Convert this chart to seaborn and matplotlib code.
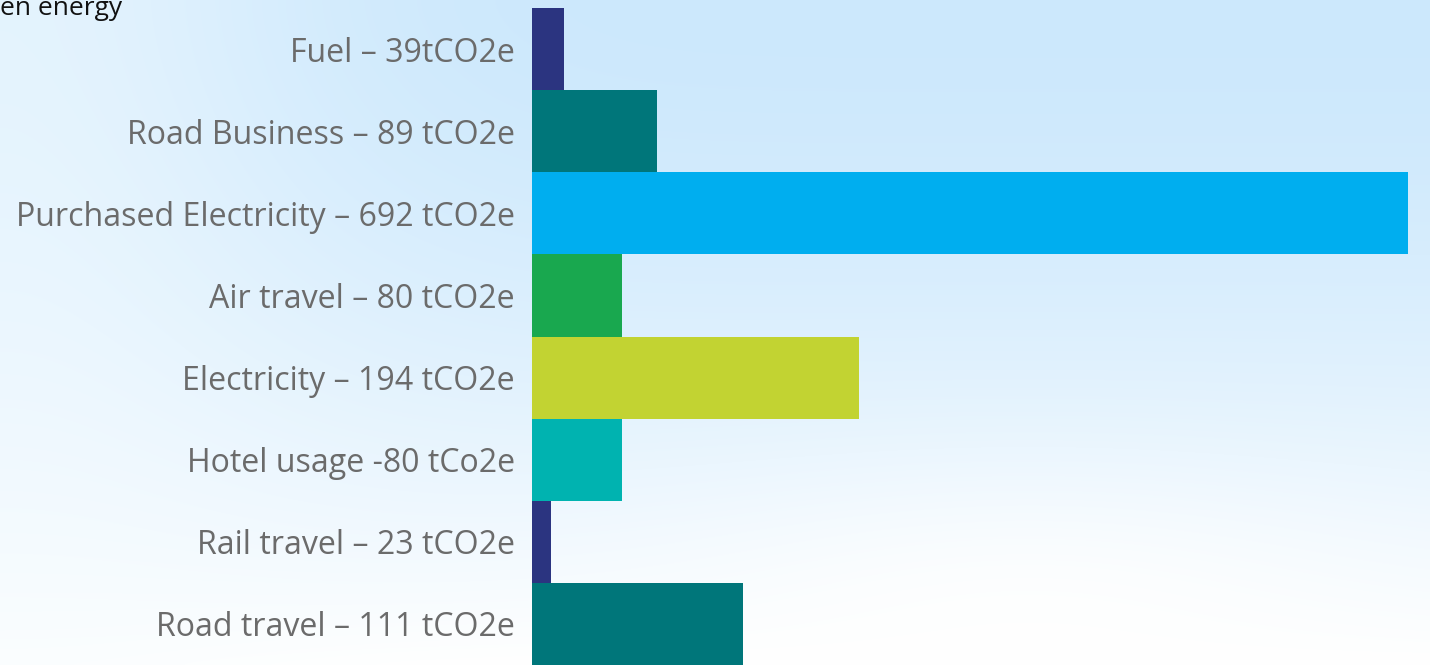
import numpy as np
import pandas as pd
import matplotlib
matplotlib.use("Agg")
import matplotlib.pyplot as plt
import seaborn as sns

# ---- data ----
labels = [
    "Fuel – 39tCO2e",
    "Road Business – 89 tCO2e",
    "Purchased Electricity – 692 tCO2e",
    "Air travel – 80 tCO2e",
    "Electricity – 194 tCO2e",
    "Hotel usage -80 tCo2e",
    "Rail travel – 23 tCO2e",
    "Road travel – 111 tCO2e",
]
# bar lengths as drawn in the picture (scaled so Purchased Electricity = 692)
values = [25.3, 98.7, 692, 71.1, 258.3, 71.1, 15.0, 166.7]
colors = ["#2b3480", "#00767a", "#00aeef", "#19a84f",
          "#c2d332", "#00b3b0", "#2b3480", "#00767a"]
title_fragment = "en energy"

sns.set_theme(style="white")
plt.rcParams["font.family"] = ["Open Sans", "DejaVu Sans"]

W, H = 1430, 665
fig = plt.figure(figsize=(W / 100, H / 100), dpi=100)

# ---- sky-like background ----
bg = fig.add_axes([0, 0, 1, 1], zorder=0)
ny, nx = 200, 430
yy, xx = np.mgrid[0:1:ny * 1j, 0:1:nx * 1j]
top = np.array([0.80, 0.91, 0.99])
bot = np.array([1.0, 1.0, 1.0])
t = np.clip(yy ** 1.6, 0, 1)
img = top[None, None, :] * (1 - t[..., None]) + bot[None, None, :] * t[..., None]
# whitish glow on the left
glow = np.exp(-((xx - 0.0) / 0.22) ** 2) * 0.55
img = img * (1 - glow[..., None]) + glow[..., None] * np.array([0.97, 0.99, 1.0])
# whitish cloud in lower middle/right
cloud = np.exp(-(((xx - 0.72) / 0.25) ** 2 + ((yy - 0.95) / 0.22) ** 2)) * 0.8
img = img * (1 - cloud[..., None]) + cloud[..., None] * np.array([1.0, 1.0, 1.0])
bg.imshow(img, extent=[0, 1, 0, 1], aspect="auto", origin="upper",
          interpolation="bicubic")
bg.set_axis_off()

fig.text(0.0, 1 - 15 / H, title_fragment, ha="left", va="baseline",
         fontsize=19, color="#111111")

# ---- bars ----
left = 532 / W
right_px = 1408
ax = fig.add_axes([left, 0, (right_px - 532) / W, (H - 8) / H], zorder=1)
ax.patch.set_alpha(0)
df = pd.DataFrame({"label": labels, "value": values})
sns.barplot(data=df, y="label", x="value", hue="label", palette=colors,
            order=labels, hue_order=labels, orient="h", width=1.0,
            linewidth=0, legend=False, ax=ax, saturation=1)
ax.set_xlim(0, 692)
ax.set_ylim(7.5, -0.5)
ax.set_xlabel("")
ax.set_ylabel("")
ax.set_xticks([])
for s in ax.spines.values():
    s.set_visible(False)
ax.tick_params(axis="y", length=0, pad=12.5, labelsize=23.1, labelcolor="#6b6b6b")

fig.savefig("out.png", dpi=100)
